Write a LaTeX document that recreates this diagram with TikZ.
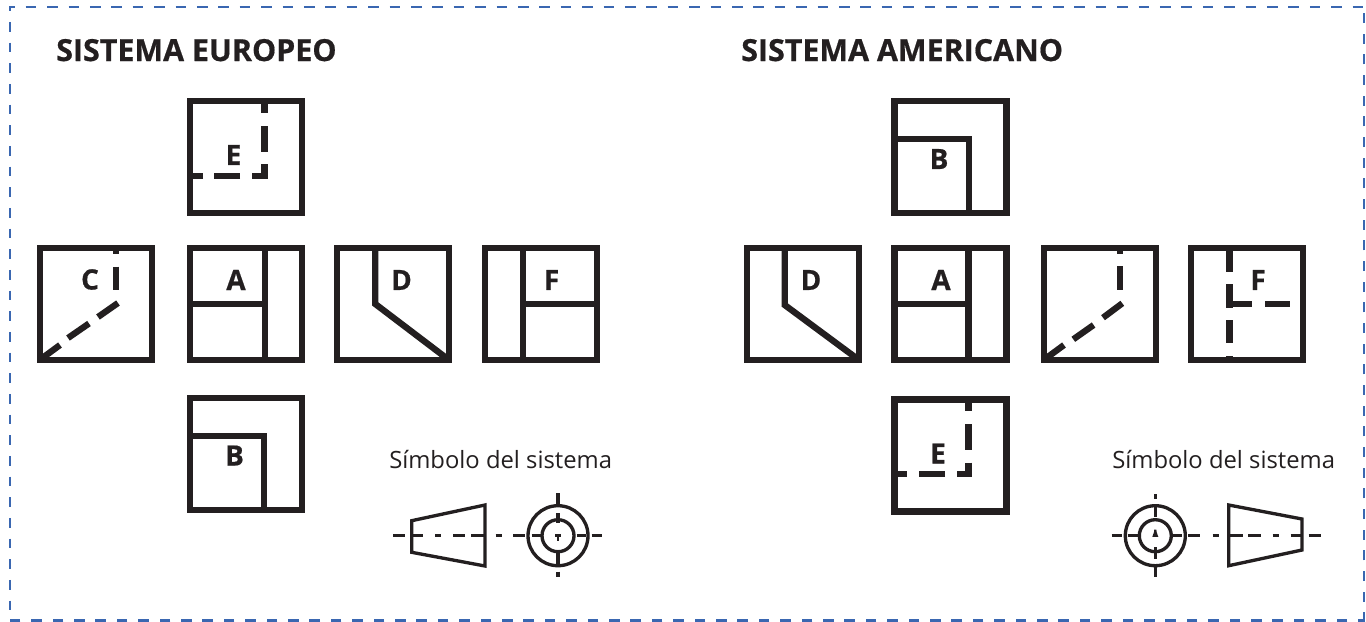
\documentclass[tikz,border=0pt]{standalone}
\usepackage{fontspec}
\setmainfont{Open Sans}
\newfontfamily\tbold[FakeBold=0.6]{Open Sans Bold}
\newfontfamily\sreg{Open Sans}
\definecolor{ink}{HTML}{231F20}
\definecolor{frameblue}{HTML}{3A67B1}
\tikzset{
  x=0.75pt,y=-0.75pt,
  viewbox/.style={draw=ink,line width=4.75pt,minimum size=84pt,inner sep=0pt,rectangle},
  viewlabel/.style={text=ink,inner sep=0pt,font=\tbold\fontsize{21}{21}\selectfont},
  titletext/.style={text=ink,inner sep=0pt,anchor=base west,font=\tbold\fontsize{22.8}{23}\selectfont},
  symboltext/.style={text=ink,inner sep=0pt,anchor=base west,font=\sreg\fontsize{17.85}{18}\selectfont},
  heavy/.style={draw=ink,line width=4.75pt,line cap=butt,line join=miter},
  thin/.style={draw=ink,line width=2.5pt,line join=miter},
  axis/.style={draw=ink,line width=2.5pt,line cap=butt},
  framex/.style={frameblue,line width=2.2pt,dash pattern=on 8pt off 8.05pt},
  framey/.style={frameblue,line width=2.2pt,dash pattern=on 7.4pt off 8.1pt},
}
\begin{document}
\begin{tikzpicture}
\useasboundingbox (0,0) rectangle (1366,621);
% frame
\draw[framex,dash phase=3.5pt] (9,7) -- (1365,7);
\draw[framey,dash phase=3.6pt] (10,6) -- (10,621);
\draw[framey,dash phase=1pt] (1364,621) -- (1364,6);
\draw[framex,dash phase=2.75pt] (1365,620.5) -- (9,620.5);
% titles
\node[titletext] (t1) at (56,61) {SISTEMA EUROPEO};
\node[titletext] (t2) at (741,61) {SISTEMA AMERICANO};
\node[symboltext] (s1) at (389,468) {Símbolo del sistema};
\node[symboltext] (s2) at (1112,468) {Símbolo del sistema};

% ---------- European
\node[viewbox] (eE) at (246,157) {};
\node[viewbox] (eC) at (96,304) {};
\node[viewbox] (eA) at (246,304) {};
\node[viewbox] (eD) at (393.3,304) {};
\node[viewbox] (eF) at (541,304) {};
\node[viewbox] (eB) at (246,454) {};
\node[viewlabel] (leE) at (233.5,155) {E};
\node[viewlabel] (leC) at (90,279.5) {C};
\node[viewlabel] (leA) at (236,280) {A};
\node[viewlabel] (leD) at (401.5,280) {D};
\node[viewlabel] (leF) at (551.5,280) {F};
\node[viewlabel] (leB) at (234.5,455.5) {B};
% E hidden
\draw[heavy] (264.5,101) -- (264.5,112.7);
\draw[heavy] (264.5,126) -- (264.5,151.7);
\draw[heavy] (264.5,164) -- (264.5,175.7) -- (252.3,175.7);
\draw[heavy] (240,175.7) -- (214,175.7);
\draw[heavy] (203,175.7) -- (190,175.7);
% C hidden
\draw[heavy] (116,248) -- (116,254.3);
\draw[heavy] (116,266.7) -- (116,290);
\draw[heavy] (118,303) -- (98,317);
\draw[heavy] (89,323.5) -- (68,338);
\draw[heavy] (60,345) -- (41,359);
% A
\draw[heavy] (264.7,248) -- (264.7,360);
\draw[heavy] (190,303.7) -- (264.7,303.7);
% D
\draw[heavy] (375.3,248) -- (375.3,304) -- (449,360);
% F
\draw[heavy] (522.7,248) -- (522.7,360);
\draw[heavy] (522.7,303.7) -- (597,303.7);
% B
\draw[heavy] (190,436) -- (264.3,436) -- (264.3,510);

% European symbol
\draw[thin] (411.7,520.7) -- (485,505) -- (485,566) -- (411.7,552.3) -- cycle;
\foreach \a/\b in {393.3/405,411/423.3,435/441,453.3/465,471/485,495.7/501.7,513.3/525,531.7/541,576.7/586,591.7/602.3}
  \draw[axis] (\a,535.7) -- (\b,535.7);
\draw[thin] (558,535.7) circle[radius=30];
\draw[thin] (558,535.7) circle[radius=16];
\foreach \a/\b in {493.3/506.7,513.3/523.3,553.3/565,571.7/577.3}
  \draw[axis] (558,\a) -- (558,\b);
\fill[ink] (555,533.8) rectangle (561,537);
\fill[ink] (556.8,536) rectangle (559.2,540.5);

% ---------- American
\node[viewbox] (aB) at (950.4,157) {};
\node[viewbox] (aD) at (803,304) {};
\node[viewbox] (aA) at (950.4,304) {};
\node[viewbox] (aC) at (1100,304) {};
\node[viewbox] (aF) at (1247,304) {};
\node[viewbox] (aE) at (950.4,455.5) {};
\node[viewlabel] (laB) at (939,159) {B};
\node[viewlabel] (laD) at (811,280) {D};
\node[viewlabel] (laA) at (941,280) {A};
\node[viewlabel] (laF) at (1258,280) {F};
\node[viewlabel] (laE) at (938,453.5) {E};
% B
\draw[heavy] (894.4,139) -- (969,139) -- (969,213);
% D
\draw[heavy] (784.7,248) -- (784.7,305) -- (859,360);
% A
\draw[heavy] (968.6,248) -- (968.6,360);
\draw[heavy] (894.4,303.7) -- (968.6,303.7);
% C position hidden
\draw[heavy] (1120,248) -- (1120,254);
\draw[heavy] (1120,266) -- (1120,290);
\draw[heavy] (1122.3,303.3) -- (1103,317.7);
\draw[heavy] (1093.6,325) -- (1073.3,339.3);
\draw[heavy] (1064,345) -- (1045,359);
% F hidden
\draw[heavy] (1229.4,248) -- (1229.4,271.7);
\draw[heavy] (1229.4,284.3) -- (1229.4,307.7);
\draw[heavy] (1229.4,303.7) -- (1252.4,303.7);
\draw[heavy] (1265,303.7) -- (1289.5,303.7);
\draw[heavy] (1229.4,320) -- (1229.4,343.3);
\draw[heavy] (1229.4,356) -- (1229.4,360);
% E hidden
\draw[heavy] (968.6,399) -- (968.6,411);
\draw[heavy] (968.6,424) -- (968.6,450);
\draw[heavy] (968.6,462.7) -- (968.6,474) -- (957,474);
\draw[heavy] (945,474) -- (919.4,474);
\draw[heavy] (906.8,474) -- (894.4,474);

% American symbol
\draw[thin] (1228.7,505) -- (1302,519) -- (1302,550) -- (1228.7,565.7) -- cycle;
\foreach \a/\b in {1212.7/1219.3,1228.7/1242.7,1248.3/1260.7,1272.7/1278.7,1290.7/1302,1308.7/1320.7,1111.7/1122.3,1128/1138,1173.3/1182.3,1188.3/1200}
  \draw[axis] (\a,535.7) -- (\b,535.7);
\draw[thin] (1155.3,535.7) circle[radius=30];
\draw[thin] (1155.3,535.7) circle[radius=16];
\foreach \a/\b in {494/499.3,505.7/517.3,547.3/559,565/577.3}
  \draw[axis] (1155.3,\a) -- (1155.3,\b);
\fill[ink] (1152.3,536.9) -- (1158.3,536.9) -- (1156.6,532) -- (1156.4,529.5) -- (1154.2,529.5) -- (1154,532) -- cycle;
\end{tikzpicture}
\end{document}
